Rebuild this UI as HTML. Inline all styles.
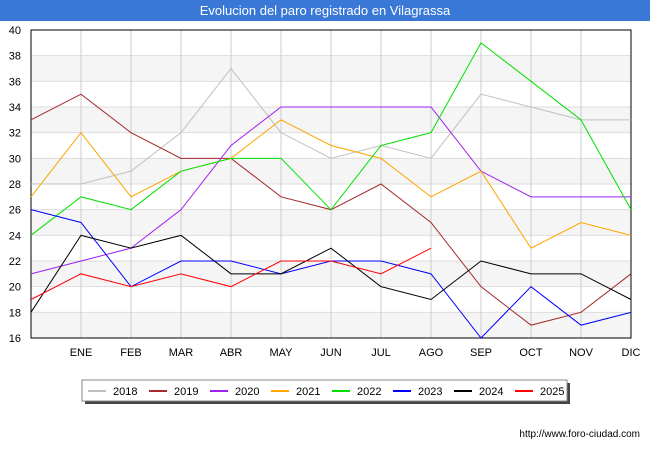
<!DOCTYPE html>
<html><head><meta charset="utf-8"><style>body{margin:0;background:#fff}svg{display:block;font-family:"Liberation Sans",sans-serif}</style></head>
<body>
<svg id="c" width="650" height="450">
<rect x="0" y="0" width="650" height="450" fill="#fff"/>
<rect x="0" y="0" width="650" height="21" fill="#3a78d8"/>
<text x="325" y="15" text-anchor="middle" fill="#fff" font-size="13">Evolucion del paro registrado en Vilagrassa</text>
<g id="plot"></g>
<text x="640" y="437" text-anchor="end" font-size="10" fill="#000">http://www.foro-ciudad.com</text>
</svg>
<script>
const months=["","ENE","FEB","MAR","ABR","MAY","JUN","JUL","AGO","SEP","OCT","NOV","DIC"];
const yTicks=[16,18,20,22,24,26,28,30,32,34,36,38,40];
const years=["2018","2019","2020","2021","2022","2023","2024","2025"];
const colors=["#c0c0c0","#a52a2a","#a020f0","#ffa500","#00e000","#0000ff","#000000","#ff0000"];
const s2018=[28,28,29,32,37,32,30,31,30,35,34,33,33];
const s2019=[33,35,32,30,30,27,26,28,25,20,17,18,21];
const s2020=[21,22,23,26,31,34,34,34,34,29,27,27,27];
const s2021=[27,32,27,29,30,33,31,30,27,29,23,25,24];
const s2022=[24,27,26,29,30,30,26,31,32,39,36,33,26];
const s2023=[26,25,20,22,22,21,22,22,21,16,20,17,18];
const s2024=[18,24,23,24,21,21,23,20,19,22,21,21,19];
const s2025=[19,21,20,21,20,22,22,21,23];
const series=[s2018,s2019,s2020,s2021,s2022,s2023,s2024,s2025];
const L=31,R=631,T=30,B=338,ymin=16,ymax=40;
const X=i=>L+i*(R-L)/(months.length-1);
const Y=v=>B-(v-ymin)*(B-T)/(ymax-ymin);
const ns="http://www.w3.org/2000/svg",g=document.getElementById('plot');
function mk(t,a){const e=document.createElementNS(ns,t);for(const k in a)e.setAttribute(k,a[k]);g.appendChild(e);return e;}
for(let i=0;i<yTicks.length-1;i++){if(i%2===0){const r=mk('rect',{x:L,y:Y(yTicks[i+1]),width:R-L,height:Y(yTicks[i])-Y(yTicks[i+1]),fill:'#f5f5f5'});

}}
yTicks.forEach(v=>{const l=mk('line',{x1:L,x2:R,y1:Y(v),y2:Y(v),stroke:'#ddd'});


const t=mk('text',{x:L-10,y:Y(v)+4,'text-anchor':'end','font-size':11});t.textContent=v;

});
months.forEach((m,i)=>{const l=mk('line',{x1:X(i),x2:X(i),y1:T,y2:B,stroke:'#ccc'});


const t=mk('text',{x:X(i),y:356,'text-anchor':'middle','font-size':11});t.textContent=m;

});
const ax=mk('rect',{x:L,y:T,width:R-L,height:B-T,fill:'none',stroke:'#000'});


series.forEach((s,k)=>{const p=mk('polyline',{points:s.map((v,i)=>X(i)+','+Y(v)).join(' '),fill:'none',stroke:colors[k],'stroke-width':1});

});
const sh=mk('rect',{x:85,y:383,width:485,height:21,fill:'#444'});


const lb=mk('rect',{x:82,y:380,width:485,height:21,fill:'#fff',stroke:'#888'});


years.forEach((y,k)=>{const x0=88+k*61;
const l=mk('line',{x1:x0,x2:x0+18,y1:391,y2:391,stroke:colors[k],'stroke-width':2});


const t=mk('text',{x:x0+25,y:395,'font-size':11});t.textContent=y;

});
</script>
</body></html>
